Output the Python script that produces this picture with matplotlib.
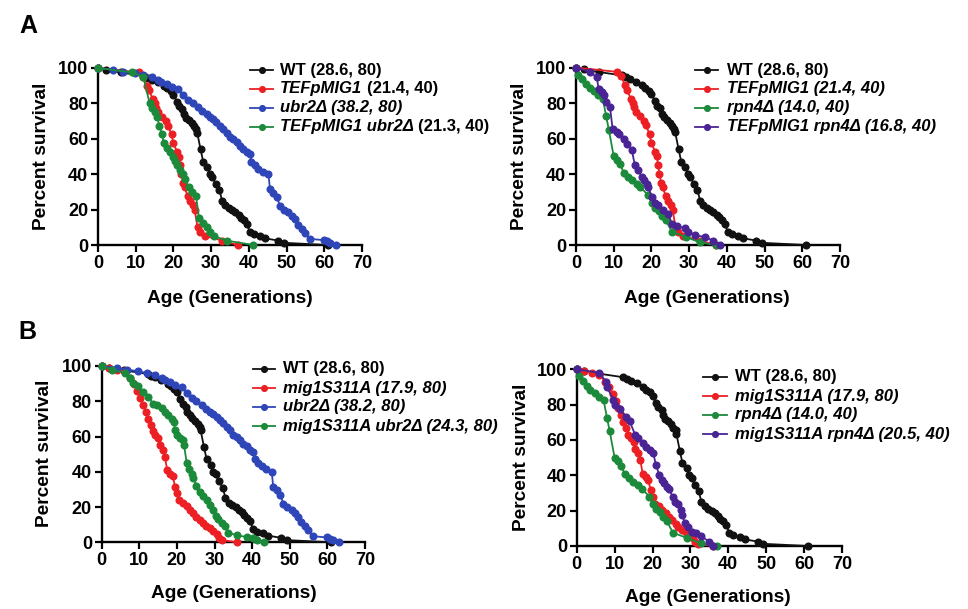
import matplotlib
matplotlib.use("Agg")
import matplotlib.pyplot as plt
from matplotlib.lines import Line2D

plt.rcParams['font.family'] = ['Liberation Sans', 'DejaVu Sans']
plt.rcParams['font.weight'] = 'bold'

# ---------------- data (generation, percent survival) ----------------
wt_gen = [0, 2, 6, 12.3, 13.2, 14.2, 15.8, 17.6, 18.4, 19.3, 20, 20.9, 21.5, 22.4, 22.8,
          23.4, 24.1, 24.8, 25.5, 26.1, 26.3, 27.2, 27.9, 29, 29.7, 30.3, 31.2, 32.2, 32.9,
          33.8, 34.7, 35.6, 36.4, 37.3, 37.9, 38.6, 39.5, 40.2, 41.3, 43, 44.3, 47.8, 49.2, 61]
wt_pct = [100, 99, 97.5, 95.5, 94.5, 93.5, 92, 90, 88.5, 87, 85, 81, 78.5, 77, 74,
          72, 70.5, 69, 67, 65.5, 63.5, 54, 47, 44, 40, 38.5, 34.5, 31, 25,
          22.5, 21, 20, 18.5, 17, 15.5, 14, 12, 7.5, 6, 5, 3.75, 2.5, 1.25, 0]

tef_gen = [0, 11, 12, 13, 13.5, 14.5, 15, 15.5, 16, 17, 18, 18.5, 19.5, 20, 21, 21.4, 21.8,
           22.1, 22.6, 23, 23.8, 24.5, 25.2, 25.6, 26.4, 27, 28.5, 33, 37]
tef_pct = [100, 97.5, 95, 90, 87.5, 82.5, 80, 77.5, 75, 72.5, 70, 67.5, 62.5, 57.5, 52.5, 50, 45,
           40, 35, 32.5, 27.5, 25, 22.5, 20, 10, 7.5, 5, 2.5, 0]

ubr_gen = [0, 4, 6.6, 9.7, 12, 14.2, 16, 16.8, 18.2, 19.5, 21.3, 22.6, 23.9, 25.2, 26.6, 27.7,
           28.8, 29.7, 30.6, 31.4, 32.3, 33.2, 34.1, 35, 35.9, 36.8, 37.6, 38.5, 39.4, 40.3,
           40.7, 41.6, 42.5, 43.8, 45.2, 45.6, 46.5, 47.4, 48.3, 49.2, 50.5, 51.4, 52.3, 53.1,
           54, 54.9, 56.1, 59.8, 60.7, 61.6, 63.2]
ubr_pct = [100, 99, 98, 97, 96, 95, 93, 92, 91, 89, 88, 84.5, 82, 80, 78, 75.5,
           74, 72.5, 71, 69.5, 67.5, 65.5, 63.5, 61, 60, 58, 56, 54.5, 52.5, 51.5,
           47, 45, 43, 41.5, 40, 31.5, 29.5, 27, 22, 20, 18.5, 16.5, 14.5, 11.5,
           9, 7, 3.5, 2.75, 2, 1.25, 0]

tef_ubr_gen = [0, 9, 12, 13.7, 14.3, 15.2, 15.6, 16.3, 16.9, 17.5, 18.3, 19.1, 19.8, 20.5, 20.9,
               21.8, 22.5, 23.1, 24, 24.9, 26, 26.8, 27.9, 28.8, 29.7, 30.8, 34.1, 41.2]
tef_ubr_pct = [100, 97.5, 95, 80, 77.5, 75, 72.5, 67.5, 62.5, 57.5, 55, 52.5, 50, 47.5, 45,
               42.5, 40, 37.5, 32.5, 30, 27.5, 15, 12.5, 10, 7.5, 5, 2.5, 0]

rpn_gen = [0, 0.6, 1.6, 2.7, 3.6, 4.8, 5.8, 7.1, 8, 8.7, 10, 10.8, 11.7, 12.7, 13.8, 14.8,
           16.1, 17.1, 19.2, 20.1, 21, 21.9, 22.8, 23.8, 25.4, 29.2, 32.8, 37]
rpn_pct = [100, 96, 93.5, 90.5, 88.5, 86.5, 84.5, 82.5, 72.5, 65, 50, 48, 45.5, 40.5, 38.5, 36.5,
           34.5, 32.5, 28, 23.5, 21, 19, 16.5, 14, 7.5, 4.5, 1.5, 0]

tef_rpn_gen = [0, 3.7, 5.5, 6, 6.8, 7.3, 8, 9, 9.7, 10.8, 11.5, 12.7, 13.4, 14.8, 15.6, 16.5,
               17.4, 18, 18.7, 19.2, 20.1, 21, 21.8, 23.2, 24.5, 25.4, 26.7, 28.9, 29.8, 31.6,
               34.2, 36.4, 38.2]
tef_rpn_pct = [100, 97.5, 94.5, 88, 86, 84.5, 80.5, 78, 65.5, 63.5, 62.5, 60, 57, 53.5, 45, 42,
               38.5, 36.5, 34.5, 32.5, 27, 23.5, 22.5, 19.5, 17.5, 12, 10.5, 9.5, 7.5, 5.5,
               4.5, 2.5, 0]

mig_gen = [0, 2, 4, 6, 7.5, 8.5, 9.5, 10.3, 11, 11.7, 12.3, 13, 13.6, 14.2, 15, 15.5, 16.2,
           16.8, 17.4, 18.2, 18.9, 19.5, 20, 20.6, 21.7, 22.6, 23.5, 24.4, 25.2, 26.1, 26.8,
           27.7, 28.8, 29.7, 30.6, 31.3, 32, 36]
mig_pct = [100, 99, 98, 97, 93, 90, 86, 82, 78, 74, 70, 66.5, 63, 61, 59, 55, 52.5,
           48.5, 41, 39, 37.5, 31.5, 28, 24, 22.5, 20.5, 18.5, 16.5, 14.5, 12.5, 11,
           9, 8, 6.5, 4.5, 2.5, 1.25, 0]

mig_ubr_gen = [0, 2.7, 6.2, 7.5, 8.4, 9.7, 11, 12.4, 13.7, 14.6, 15.9, 16.8, 17.7, 18.6, 19.2,
               19.5, 19.9, 20.8, 21.5, 21.9, 22.6, 23.3, 23.9, 24.4, 25.2, 26.1, 27, 27.9, 28.8,
               29.7, 30.4, 31, 31.9, 32.8, 33.7, 35.9, 38.5, 40.3, 41.4, 43.1]
mig_ubr_pct = [100, 98, 96, 93, 90.5, 88.5, 85.5, 82.5, 78.5, 78, 76, 74, 72, 70, 68,
               63.5, 61, 59, 58, 55, 45, 41.5, 39, 36.5, 32, 28.5, 26.5, 24, 21,
               18.5, 15, 13, 11, 9, 5.5, 4, 3, 2.5, 1.25, 0]

mig_rpn_gen = [0, 6, 7.7, 8, 9.7, 10.1, 11.4, 13, 14, 15.4, 16.2, 17.4, 18.4, 19.3, 20.2, 20.9,
               21.8, 22.4, 23, 23.7, 24.4, 25.3, 25.9, 26.8, 27.4, 27.9, 28.5, 29.4, 30.3, 31.4,
               32.9, 34.9, 36]
mig_rpn_pct = [100, 98, 93, 90, 82.5, 80, 77.5, 73, 70.5, 63, 61, 58.5, 56, 54.5, 52.5, 46,
               40, 37.5, 35.5, 33.5, 32, 28, 25, 24, 20.5, 17.5, 13, 11, 8, 7.5,
               5.5, 2.5, 0]

x_ticks = [0, 10, 20, 30, 40, 50, 60, 70]
y_ticks = [0, 20, 40, 60, 80, 100]

BLACK, RED, BLUE, GREEN, PURPLE = '#111111', '#ec2024', '#2e46b8', '#1c8a3b', '#4a2395'

# legend labels: list of (text, italic?) pieces
leg_A1 = [[("WT (28.6, 80)", False)],
          [("TEFpMIG1", True), ("(21.4, 40)", False)],
          [("ubr2Δ (38.2, 80)", True)],
          [("TEFpMIG1 ubr2Δ", True), ("(21.3, 40)", False)]]
leg_A2 = [[("WT (28.6, 80)", False)],
          [("TEFpMIG1 (21.4, 40)", True)],
          [("rpn4Δ (14.0, 40)", True)],
          [("TEFpMIG1 rpn4Δ (16.8, 40)", True)]]
leg_B1 = [[("WT (28.6, 80)", False)],
          [("mig1S311A (17.9, 80)", True)],
          [("ubr2Δ (38.2, 80)", True)],
          [("mig1S311A ubr2Δ (24.3, 80)", True)]]
leg_B2 = [[("WT (28.6, 80)", False)],
          [("mig1S311A (17.9, 80)", True)],
          [("rpn4Δ (14.0, 40)", True)],
          [("mig1S311A rpn4Δ (20.5, 40)", True)]]

for g, p in [(wt_gen, wt_pct), (tef_gen, tef_pct), (ubr_gen, ubr_pct), (tef_ubr_gen, tef_ubr_pct),
             (rpn_gen, rpn_pct), (tef_rpn_gen, tef_rpn_pct), (mig_gen, mig_pct),
             (mig_ubr_gen, mig_ubr_pct), (mig_rpn_gen, mig_rpn_pct)]:
    assert len(g) == len(p), (len(g), len(p))

# ---------------- figure ----------------
W, H = 968, 609
fig = plt.figure(figsize=(W / 100, H / 100), dpi=100)
renderer = fig.canvas.get_renderer()


def fx(x):
    return x / W


def fy(y):
    return 1 - y / H


TICK_FS = 13
LAB_FS = 13.8
LEG_FS = 12
MS = 4.8
LW = 1.3


def make_ax(l, r, t, b):
    ax = fig.add_axes([fx(l), fy(b), (r - l) / W, (b - t) / H])
    ax.set_xlim(0, 70)
    ax.set_ylim(0, 100)
    ax.set_xticks(x_ticks)
    ax.set_yticks(y_ticks)
    for s in ['top', 'right']:
        ax.spines[s].set_visible(False)
    for s in ['left', 'bottom']:
        ax.spines[s].set_linewidth(1.7)
    ax.tick_params(direction='out', length=5, width=1.6, labelsize=TICK_FS, pad=2)
    for lab in ax.get_xticklabels() + ax.get_yticklabels():
        lab.set_fontweight('bold')
    return ax


def series(ax, g, p, c, z):
    ax.plot(g, p, '-o', color=c, ms=MS, lw=LW, clip_on=False, zorder=z)


def space_w(italic):
    st = 'italic' if italic else 'normal'
    t1 = fig.text(0, 0, "x x", fontsize=LEG_FS, fontweight='bold', style=st)
    t2 = fig.text(0, 0, "xx", fontsize=LEG_FS, fontweight='bold', style=st)
    w = t1.get_window_extent(renderer).width - t2.get_window_extent(renderer).width
    t1.remove()
    t2.remove()
    return w


def legend(x1, x2, xt, rows_y, colors, labels):
    for y, c, pieces in zip(rows_y, colors, labels):
        fig.add_artist(Line2D([fx(x1), fx(x2)], [fy(y), fy(y)], color=c, lw=LW,
                              transform=fig.transFigure))
        fig.add_artist(Line2D([fx((x1 + x2) / 2)], [fy(y)], color=c, marker='o', ms=MS * 0.85,
                              transform=fig.transFigure))
        x = xt
        for i, (txt, it) in enumerate(pieces):
            if i > 0:
                x += space_w(False)
            t = fig.text(fx(x), fy(y), txt, fontsize=LEG_FS, fontweight='bold',
                         style='italic' if it else 'normal', va='center', ha='left')
            x += t.get_window_extent(renderer).width


# Panel A left
axA1 = make_ax(98, 362, 68, 245)
series(axA1, wt_gen, wt_pct, BLACK, 3)
series(axA1, tef_gen, tef_pct, RED, 4)
series(axA1, ubr_gen, ubr_pct, BLUE, 5)
series(axA1, tef_ubr_gen, tef_ubr_pct, GREEN, 6)
legend(250, 273, 280, [70, 88.5, 107.5, 126.5], [BLACK, RED, BLUE, GREEN], leg_A1)

# Panel A right
axA2 = make_ax(576, 840, 67.5, 245)
series(axA2, wt_gen, wt_pct, BLACK, 3)
series(axA2, tef_gen, tef_pct, RED, 4)
series(axA2, rpn_gen, rpn_pct, GREEN, 5)
series(axA2, tef_rpn_gen, tef_rpn_pct, PURPLE, 6)
legend(695, 718, 727, [70, 88.5, 107.5, 126.5], [BLACK, RED, GREEN, PURPLE], leg_A2)

# Panel B left
axB1 = make_ax(101.7, 365, 366, 542.3)
series(axB1, wt_gen, wt_pct, BLACK, 3)
series(axB1, mig_gen, mig_pct, RED, 4)
series(axB1, ubr_gen, ubr_pct, BLUE, 5)
series(axB1, mig_ubr_gen, mig_ubr_pct, GREEN, 6)
legend(253, 275, 283, [369, 388, 407, 426], [BLACK, RED, BLUE, GREEN], leg_B1)

# Panel B right
axB2 = make_ax(576.7, 842, 369.3, 546)
series(axB2, wt_gen, wt_pct, BLACK, 3)
series(axB2, mig_gen, mig_pct, RED, 4)
series(axB2, rpn_gen, rpn_pct, GREEN, 5)
series(axB2, mig_rpn_gen, mig_rpn_pct, PURPLE, 6)
legend(703, 727, 735, [377, 396, 415, 434], [BLACK, RED, GREEN, PURPLE], leg_B2)

# axis labels
for (x, y) in [(41.5, 156), (520, 156), (45, 453), (521.5, 457)]:
    fig.text(fx(x), fy(y), "Percent survival", rotation=90, fontsize=LAB_FS, fontweight='bold',
             ha='center', va='center')
for (x, y) in [(230, 298), (707, 298), (234, 593), (708, 598)]:
    fig.text(fx(x), fy(y), "Age (Generations)", fontsize=LAB_FS, fontweight='bold',
             ha='center', va='center')

# panel letters
fig.text(fx(28.5), fy(26), "A", fontsize=18, fontweight='bold', ha='center', va='center')
fig.text(fx(27.5), fy(332), "B", fontsize=18, fontweight='bold', ha='center', va='center')

fig.savefig("out.png", dpi=100)
